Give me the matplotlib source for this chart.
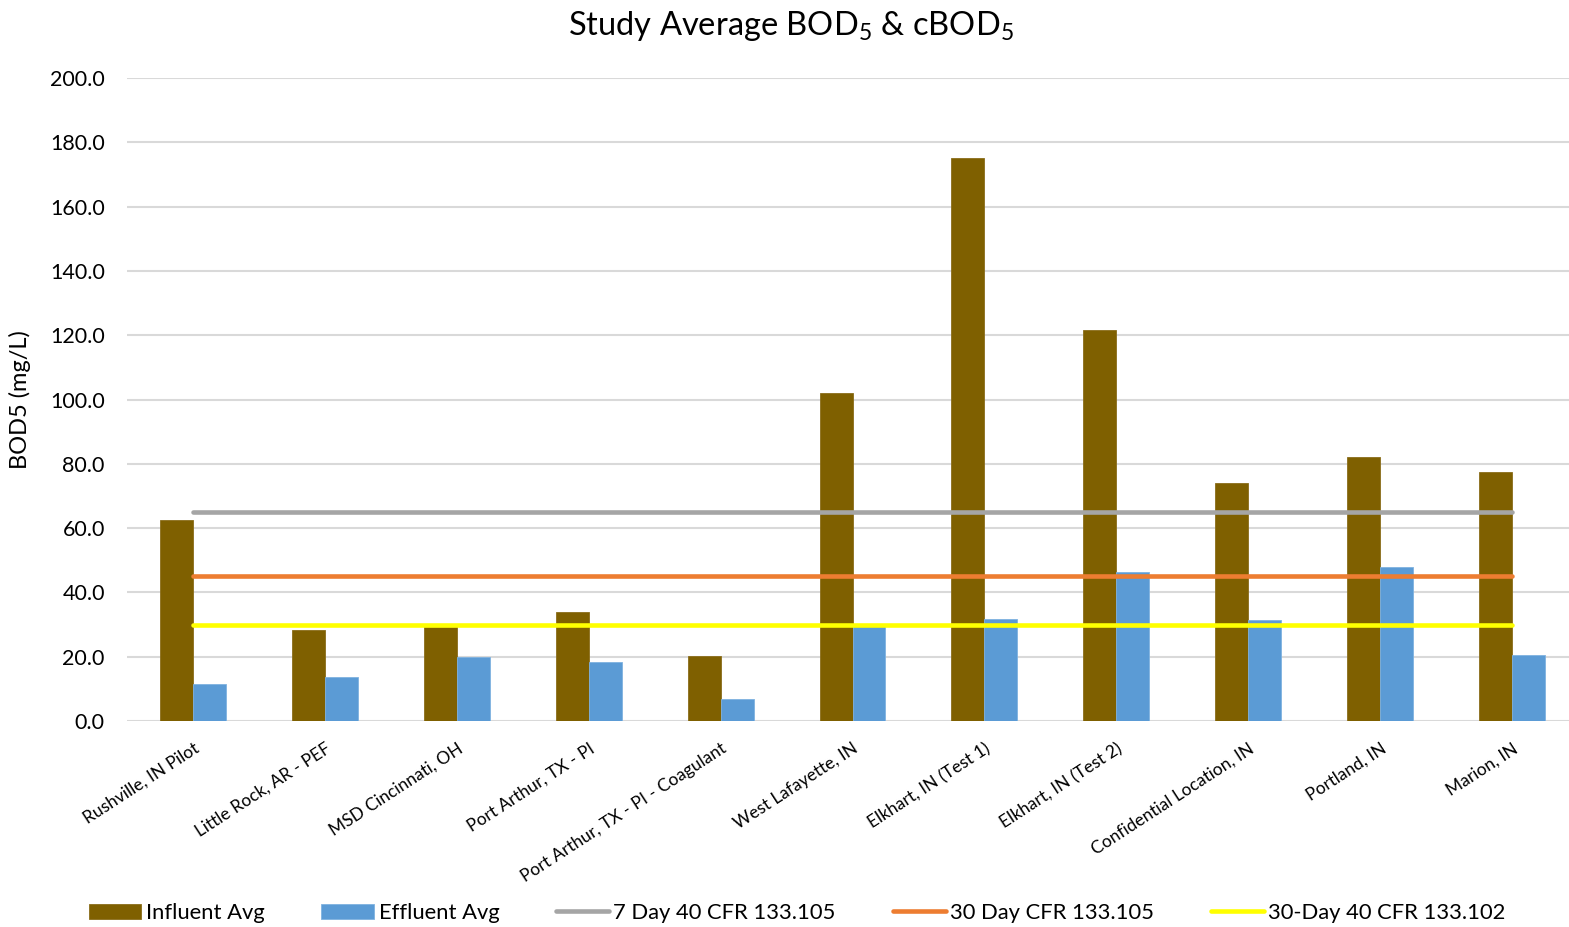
import matplotlib.pyplot as plt
import numpy as np

plt.rcParams['font.family'] = ['Lato', 'DejaVu Sans']
plt.rcParams['mathtext.fontset'] = 'custom'
plt.rcParams['mathtext.rm'] = 'Lato'

sites = ['Rushville, IN Pilot', 'Little Rock, AR - PEF', 'MSD Cincinnati, OH',
         'Port Arthur, TX - PI', 'Port Arthur, TX - PI - Coagulant',
         'West Lafayette, IN', 'Elkhart, IN (Test 1)', 'Elkhart, IN (Test 2)',
         'Confidential Location, IN', 'Portland, IN', 'Marion, IN']
influent = [62.5, 28.3, 29.2, 33.9, 20.3, 102.0, 175.0, 121.6, 74.0, 82.1, 77.5]
effluent = [11.6, 13.8, 19.9, 18.3, 6.8, 29.9, 31.7, 46.4, 31.4, 47.9, 20.5]
limit_7day = 65.0
limit_30day = 45.0
limit_30day_102 = 30.0

fig = plt.figure(figsize=(15.69, 9.27), dpi=100)
ax = fig.add_axes([127 / 1569, 1 - 721 / 927, 1451 / 1569, 643 / 927])

x = np.arange(len(sites))
w = 0.25
ax.bar(x - w / 2, influent, w, color='#7F6000', edgecolor='#8a6d1a', linewidth=0.6,
       label='Influent Avg', zorder=2)
ax.bar(x + w / 2, effluent, w, color='#5B9BD5', edgecolor='#7fb2e0', linewidth=0.6,
       label='Effluent Avg', zorder=2)

for val, col, lab in [(limit_7day, '#A5A5A5', '7 Day 40 CFR 133.105'),
                      (limit_30day, '#ED7D31', '30 Day CFR 133.105'),
                      (limit_30day_102, '#FFFF00', '30-Day 40 CFR 133.102')]:
    ax.plot(x, [val] * len(x), color=col, linewidth=3.3, solid_capstyle='round',
            label=lab, zorder=3)

ax.set_xlim(-0.5, len(sites) - 0.5)
ax.set_ylim(0, 200)
ax.set_yticks(np.arange(0, 201, 20))
ax.set_yticklabels([f'{v:.1f}' for v in np.arange(0, 201, 20)], fontsize=15.5)
ax.yaxis.grid(True, color='#D9D9D9', linewidth=1.5, zorder=0)
ax.set_axisbelow(True)
ax.tick_params(axis='both', length=0, pad=16)
for s in ax.spines.values():
    s.set_visible(False)

ax.set_xticks(x)
ax.set_xticklabels(sites, rotation=33, ha='right', rotation_mode='anchor', fontsize=12.5)
ax.tick_params(axis='x', pad=14)

ax.set_ylabel('BOD5 (mg/L)', fontsize=17)
ax.yaxis.set_label_coords(-0.066, 0.5)

fig.text(791 / 1569, 1 - 26 / 927, r'Study Average BOD$_\mathregular{5}$ & cBOD$_\mathregular{5}$',
         ha='center', va='center', fontsize=23.5)

handles, labels = ax.get_legend_handles_labels()
order = [3, 4, 0, 1, 2]
fig.legend([handles[i] for i in order], [labels[i] for i in order],
           loc='center', bbox_to_anchor=(797 / 1569, 1 - 913 / 927), ncol=5,
           frameon=False, fontsize=15.8, handlelength=2.4, handletextpad=0.2,
           columnspacing=2.6)

fig.savefig('out.png', dpi=100)
